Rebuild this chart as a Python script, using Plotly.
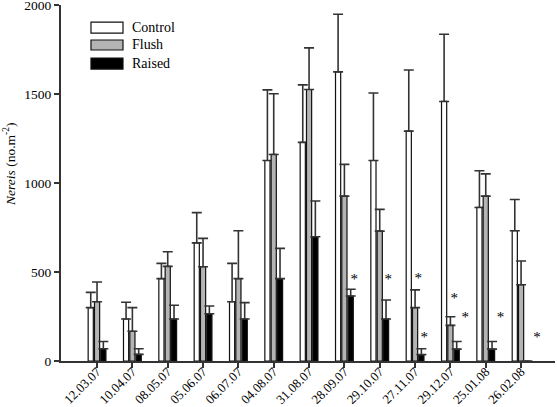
import plotly.graph_objects as go

dates = ["12.03.07", "10.04.07", "08.05.07", "05.06.07", "06.07.07", "04.08.07",
         "31.08.07", "28.09.07", "29.10.07", "27.11.07", "29.12.07", "25.01.08", "26.02.08"]

series_names = ["Control", "Flush", "Raised"]

control_mean = [300, 236, 463, 664, 333, 1127, 1229, 1625, 1127, 1292, 1459, 863, 732]
control_top = [386, 330, 549, 834, 549, 1524, 1552, 1949, 1506, 1636, 1837, 1069, 908]

flush_mean = [333, 167, 532, 530, 463, 1161, 1526, 927, 730, 300, 200, 927, 429]
flush_top = [444, 300, 614, 689, 732, 1502, 1760, 1105, 852, 400, 249, 1052, 562]

raised_mean = [69, 37, 236, 266, 236, 463, 698, 365, 236, 36, 67, 67, 0]
raised_top = [110, 69, 313, 309, 328, 633, 899, 403, 343, 69, 110, 110, 0]

# significance stars: (date, horizontal offset in category units, value)
star_dates = ["28.09.07", "29.10.07", "27.11.07", "27.11.07", "29.12.07", "29.12.07", "25.01.08", "26.02.08"]
star_dx = [0.28, 0.24, 0.09, 0.26, 0.11, 0.42, 0.42, 0.45]
star_vals = [455, 455, 461, 129, 348, 238, 238, 129]

fills = ["#ffffff", "#b4b4b4", "#000000"]
means = [control_mean, flush_mean, raised_mean]
tops = [control_top, flush_top, raised_top]

serif = "Liberation Serif"

fig = go.Figure()
for name, m, t, c in zip(series_names, means, tops, fills):
    err = [max(tt - mm, 0) for tt, mm in zip(t, m)]
    fig.add_trace(go.Bar(
        x=dates, y=m, name=name,
        marker=dict(color=c, line=dict(color="#111111", width=1.2)),
        error_y=dict(type="data", array=err, arrayminus=[0] * len(err), symmetric=False,
                     color="#333333", thickness=1.6, width=5),
        showlegend=False,
    ))

# significance stars as a text trace on a numeric overlay axis matching the category positions
fig.add_trace(go.Scatter(
    x=[dates.index(d) + dx for d, dx in zip(star_dates, star_dx)], y=star_vals,
    xaxis="x2", mode="text", text=["*"] * len(star_vals),
    textfont=dict(family=serif, size=15, color="#000000"),
    textposition="middle center", showlegend=False, hoverinfo="skip",
))

annotations = []
# y-axis title
annotations.append(dict(x=-0.103, y=0.551, xref="paper", yref="paper",
                        text="<i>Nereis</i> (no.m<sup>-2</sup>)", textangle=-90,
                        showarrow=False, font=dict(family=serif, size=13.5, color="#000000"),
                        xanchor="center", yanchor="middle"))

# legend (custom swatches)
shapes = []
sw_y = [(0.952, 0.921), (0.9017, 0.8736), (0.851, 0.820)]
for name, c, (y1, y0) in zip(series_names, fills, sw_y):
    shapes.append(dict(type="rect", xref="paper", yref="paper", x0=0.0607, x1=0.1255,
                       y0=y0, y1=y1, fillcolor=c, line=dict(color="#111111", width=1.2)))
    annotations.append(dict(x=0.1397, y=(y0 + y1) / 2, xref="paper", yref="paper", text=name,
                            showarrow=False, font=dict(family=serif, size=14, color="#000000"),
                            xanchor="left", yanchor="middle"))

xr = [-1.02, 12.96]
fig.update_layout(
    template="none",
    width=557, height=407,
    margin=dict(l=61, r=2, t=5, b=46),
    paper_bgcolor="white", plot_bgcolor="white",
    barmode="group", bargap=0.465, bargroupgap=0.18,
    annotations=annotations, shapes=shapes,
    font=dict(family=serif, size=13.5, color="#000000"),
    xaxis=dict(range=xr, showline=True, linecolor="#333333", linewidth=2,
               ticks="outside", ticklen=5, tickwidth=1.5, tickcolor="#333333",
               tickangle=-45, showgrid=False, zeroline=False, automargin=False,
               ticklabelstandoff=-9,
               tickfont=dict(family=serif, size=13, color="#000000")),
    xaxis2=dict(range=xr, overlaying="x", visible=False, showgrid=False, zeroline=False),
    yaxis=dict(range=[0, 2001], tickvals=[0, 500, 1000, 1500, 2000], showline=True,
               linecolor="#333333", linewidth=2, ticks="outside", ticklen=5, tickwidth=1.5,
               tickcolor="#333333", showgrid=False, zeroline=False, automargin=False,
               ticklabeloverflow="allow",
               tickfont=dict(family=serif, size=13.5, color="#000000")),
)

fig.write_html("out.html", config={"displayModeBar": False},
               post_script="document.body.style.margin='0';document.body.style.padding='0';")
